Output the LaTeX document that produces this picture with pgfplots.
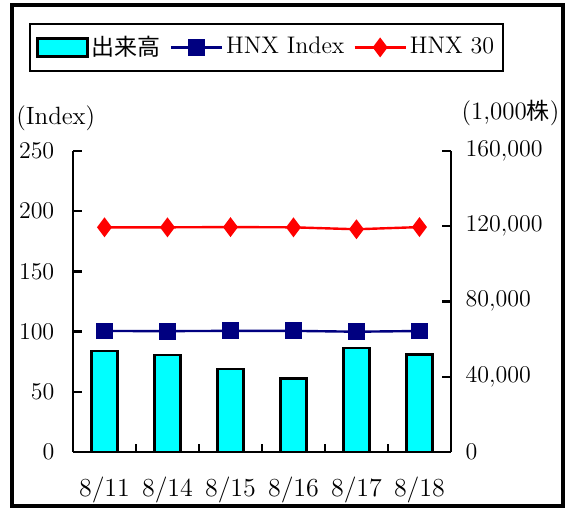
\documentclass[border=0pt]{standalone}
\usepackage{fontspec}
\usepackage{pgfplots}
\pgfplotsset{compat=1.18}
\newfontfamily\jp{Noto Sans CJK JP}
\definecolor{navyb}{RGB}{0,0,128}
\definecolor{cyanb}{RGB}{0,255,255}
\pgfplotsset{mylineleg/.style={legend image code/.code={\draw[##1, mark repeat=2, mark phase=2] plot coordinates {(0cm,0cm) (0.45cm,0cm) (0.9cm,0cm)};}}}
\pgfplotsset{mybarleg/.style={legend image code/.code={\draw[fill=cyanb, draw=black, line width=1.2pt] (0cm,-0.16cm) rectangle (0.88cm,0.16cm);}}}
\begin{document}
\fontsize{12.5}{15}\selectfont
\begin{tikzpicture}
\useasboundingbox (0,0) rectangle (284pt,254pt);
\draw[line width=2pt] (6pt,1.2pt) rectangle (281.5pt,251.5pt);
\pgfplotsset{common/.style={
  at={(36.5pt,28pt)}, anchor=south west, width=189pt, height=150.5pt, scale only axis,
  xmin=-0.5, xmax=5.5, ymin=0,
  axis line style={line width=1.2pt},
  major tick style={line width=1.2pt, black},
  major tick length=4.5pt,
  tick label style={font=\fontsize{13}{15}\selectfont},
  tick align=inside,
}}
% bars on right axis
\begin{axis}[common,
  axis x line=none, axis y line*=right,
  ymax=160000, ytick={0,40000,...,160000},
  scaled y ticks=false,
  yticklabel style={xshift=3pt, /pgf/number format/.cd, fixed, 1000 sep={\mathord{,}}},
  ybar, bar width=0.41, bar shift=0pt,
]
\addplot[fill=cyanb, draw=black, line width=1.2pt] coordinates {
(0,53700) (1,51400) (2,44000) (3,39000) (4,55300) (5,51900)};
\end{axis}
% lines on left axis
\begin{axis}[common,
  axis x line*=bottom, axis y line*=left,
  ymax=250, ytick={0,50,...,250},
  yticklabel style={xshift=-5pt},
  xtick={0,1,2,3,4,5}, xticklabels={8/11,8/14,8/15,8/16,8/17,8/18},
  x tick style={draw=none},
  xticklabel style={yshift=-8pt},
  unbounded coords=jump,
  legend columns=3,
  legend style={at={(-0.116,1.344)}, anchor=west, draw=black, line width=1pt,
    font=\fontsize{12}{14}\selectfont, inner xsep=3pt, inner ysep=4pt,
    nodes={inner xsep=1.5pt},
    /tikz/every even column/.append style={column sep=3pt}},
  clip=false,
]
% separator ticks between the categories on the x axis
\addplot[black, line width=1.2pt, no marks, forget plot] coordinates {
(0.5,0) (0.5,7) (1,nan) (1.5,0) (1.5,7) (2,nan) (2.5,0) (2.5,7) (3,nan)
(3.5,0) (3.5,7) (4,nan) (4.5,0) (4.5,7)};
\addlegendimage{mybarleg}
\addlegendentry{{\jp\fontsize{11.5}{14}\selectfont 出来高}}
\addplot[navyb, line width=1.2pt, mark=square*, mark size=3.6pt, mark options={solid}, mylineleg] coordinates {
(0,100.5) (1,100.4) (2,100.6) (3,100.6) (4,99.9) (5,100.5)};
\addlegendentry{HNX Index}
\addplot[red, line width=1.2pt, mark=diamond*, mark size=4pt, mark options={solid}, mylineleg] coordinates {
(0,186.6) (1,186.6) (2,186.8) (3,186.6) (4,185.0) (5,186.8)};
\addlegendentry{HNX 30}
\node[anchor=west, inner sep=0pt, font=\fontsize{12.5}{15}\selectfont] at (rel axis cs:-0.151,1.11) {(Index)};
\node[anchor=east, inner sep=0pt, font=\fontsize{12.5}{15}\selectfont] at (rel axis cs:1.288,1.125) {(1,000{\jp\fontsize{11.5}{14}\selectfont 株})};
\end{axis}
\end{tikzpicture}
\end{document}
